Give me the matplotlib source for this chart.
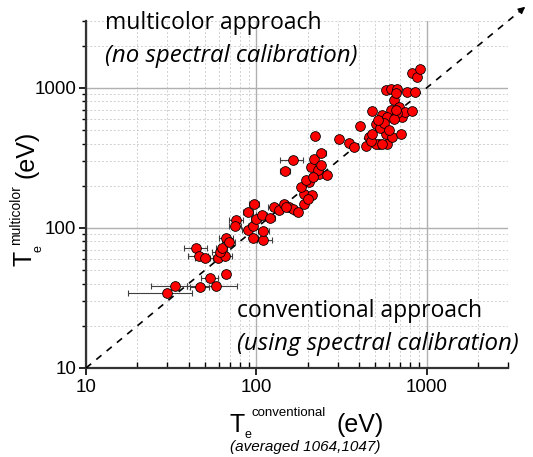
import numpy as np
import matplotlib.pyplot as plt
from matplotlib.ticker import LogLocator, NullFormatter

# T_e conventional (x) and multicolor (y), eV
te_conv = [29.7, 33.1, 47, 53.6, 58, 66.5, 44.4, 45.8, 49.9, 59.4, 65.6, 60.8, 62.7,
           66.5, 68.9, 76, 75, 89.3, 88.9, 95, 97.3, 99.5, 96, 109, 110, 108,
           127, 136, 146, 156, 163, 147, 163, 191, 191, 184, 204, 213, 209, 218,
           239, 221, 232, 259, 195, 306, 350, 374, 406, 438, 479, 458, 501, 524,
           548, 573, 586, 627, 613, 641, 573, 613, 671, 656, 686, 718, 702, 750,
           767, 859, 820, 820, 877, 918, 586, 671, 501, 548, 470, 530, 560, 600,
           640, 660, 520, 480, 230, 215, 200, 240, 175, 150, 120]
te_multi = [34.3, 38.5, 37.9, 43.9, 38.7, 46.7, 72, 63, 61, 61, 62.9, 67.4, 72,
            85.3, 79.4, 113, 103, 130, 97, 104, 149, 115, 85.3, 81.7, 95, 123,
            141, 134, 149, 141, 137, 254, 304, 148, 176, 196, 213, 171, 273, 313,
            340, 452, 244, 238, 219, 434, 404, 379, 532, 383, 681, 447, 556, 400,
            638, 472, 400, 447, 692, 816, 962, 989, 989, 912, 731, 621, 472, 674,
            935, 935, 681, 1280, 1200, 1352, 621, 656, 400, 400, 420, 520, 560, 500,
            600, 700, 590, 470, 260, 230, 160, 280, 130, 140, 118]
err_lo = [12, 9, 6, 6, 19, 4, 7, 6, 6, 6, 6, 6, 5,
          6, 6, 7, 6, 6, 6, 6, 7, 7, 6, 8, 8, 8,
          10, 8, 8, 8, 8, 10, 25, 8, 8, 8, 8, 8, 10, 10,
          12, 8, 8, 10, 8, 10, 12, 12, 12, 15, 15, 15, 15, 15,
          15, 15, 15, 15, 15, 15, 15, 15, 15, 15, 15, 15, 15, 15,
          15, 15, 15, 15, 15, 15, 15, 15, 15, 15, 15, 15, 15, 15,
          15, 15, 15, 15, 10, 10, 10, 10, 10, 10, 8]
err_hi = [12, 6, 6, 6, 19, 4, 7, 6, 6, 6, 6, 6, 5,
          6, 6, 7, 6, 6, 6, 6, 7, 7, 6, 15, 8, 8,
          10, 8, 8, 8, 8, 10, 25, 8, 8, 8, 8, 8, 10, 10,
          18, 8, 8, 12, 8, 10, 12, 12, 12, 15, 15, 15, 15, 15,
          15, 15, 15, 15, 15, 15, 15, 15, 15, 15, 15, 15, 15, 15,
          15, 15, 15, 15, 15, 15, 15, 15, 15, 15, 15, 15, 15, 15,
          15, 15, 15, 15, 10, 10, 10, 10, 10, 10, 8]

diag = [10, 3900]
ticks = [10, 100, 1000]

W, H = 533, 457
fig = plt.figure(figsize=(W / 100, H / 100), dpi=100)
ax = fig.add_axes([86 / W, 1 - 368 / H, (508 - 86) / W, (368 - 21) / H])

ax.set_xscale('log')
ax.set_yscale('log')
ax.set_xlim(10, 3000)
ax.set_ylim(10, 3000)

# grid
ax.grid(which='major', color='#b0b0b0', lw=1.0, ls='-')
ax.grid(which='minor', color='#d0d0d0', lw=0.7, ls=(0, (2, 2)))
ax.set_axisbelow(True)

# diagonal guide with arrow beyond the frame
ax.plot(diag, diag, ls=(0, (4, 4)), color='black', lw=1.2, clip_on=False, zorder=4)
ax.annotate('', xy=(diag[1], diag[1]), xytext=(diag[1] * 0.9, diag[1] * 0.9),
            arrowprops=dict(arrowstyle='-|>', color='black', lw=1.0, mutation_scale=10),
            annotation_clip=False, zorder=4)

ax.errorbar(te_conv, te_multi, xerr=[err_lo, err_hi], fmt='none', ecolor='#404040',
            elinewidth=0.8, capsize=2, capthick=0.8, zorder=3)
ax.plot(te_conv, te_multi, 'o', ms=7, mfc='#ff0000', mec='#000000', mew=0.6, zorder=5)

for s in ['top', 'right']:
    ax.spines[s].set_visible(False)
for s in ['left', 'bottom']:
    ax.spines[s].set_linewidth(1.6)
    ax.spines[s].set_color('#333333')

ax.set_xticks(ticks)
ax.set_yticks(ticks)
ax.set_xticklabels([str(t) for t in ticks], fontname='Liberation Sans', fontsize=13.5)
ax.set_yticklabels([str(t) for t in ticks], fontname='Liberation Sans', fontsize=13.5)
ax.xaxis.set_minor_locator(LogLocator(base=10, subs=np.arange(2, 10), numticks=10))
ax.yaxis.set_minor_locator(LogLocator(base=10, subs=np.arange(2, 10), numticks=10))
ax.xaxis.set_minor_formatter(NullFormatter())
ax.yaxis.set_minor_formatter(NullFormatter())
ax.tick_params(axis='x', which='major', direction='out', length=5, width=1.2, pad=3)
ax.tick_params(axis='x', which='minor', direction='in', length=4, width=1.0)
ax.tick_params(axis='y', which='major', direction='out', length=5, width=1.2, pad=2)
ax.tick_params(axis='y', which='minor', direction='out', length=3, width=1.0)

# annotations in plot
ax.text(105 / W, 1 - 23 / H, 'multicolor approach', transform=fig.transFigure,
        fontname='Open Sans', fontsize=16.5, ha='left', va='center')
ax.text(105 / W, 1 - 56 / H, '(no spectral calibration)', transform=fig.transFigure,
        fontname='Open Sans', fontsize=17.3, style='italic', ha='left', va='center')
ax.text(237 / W, 1 - 311 / H, 'conventional approach', transform=fig.transFigure,
        fontname='Open Sans', fontsize=16.5, ha='left', va='center')
ax.text(237 / W, 1 - 344 / H, '(using spectral calibration)', transform=fig.transFigure,
        fontname='Open Sans', fontsize=17.3, style='italic', ha='left', va='center')

# x label
lab = dict(fontname='Liberation Sans', color='black')
fig.text(230 / W, 1 - 432 / H, 'T', fontsize=18, ha='left', va='baseline', **lab)
fig.text(245 / W, 1 - 438 / H, 'e', fontsize=9, ha='left', va='baseline', **lab)
fig.text(252 / W, 1 - 416 / H, 'conventional', fontsize=9.5, ha='left', va='baseline', **lab)
fig.text(337 / W, 1 - 432 / H, '(eV)', fontsize=18, ha='left', va='baseline', **lab)
fig.text(305 / W, 1 - 447 / H, '(averaged 1064,1047)', fontsize=11, style='italic',
         ha='center', va='center', **lab)

# y label
fig.text(12 / W, 1 - 266 / H, 'T', fontsize=18, rotation=90, ha='left', va='bottom', **lab)
fig.text(32 / W, 1 - 252 / H, 'e', fontsize=9, rotation=90, ha='left', va='bottom', **lab)
fig.text(9 / W, 1 - 245 / H, 'multicolor', fontsize=10, rotation=90, ha='left', va='bottom', **lab)
fig.text(15 / W, 1 - 178 / H, '(eV)', fontsize=18, rotation=90, ha='left', va='bottom', **lab)

fig.savefig('out.png', dpi=100)
